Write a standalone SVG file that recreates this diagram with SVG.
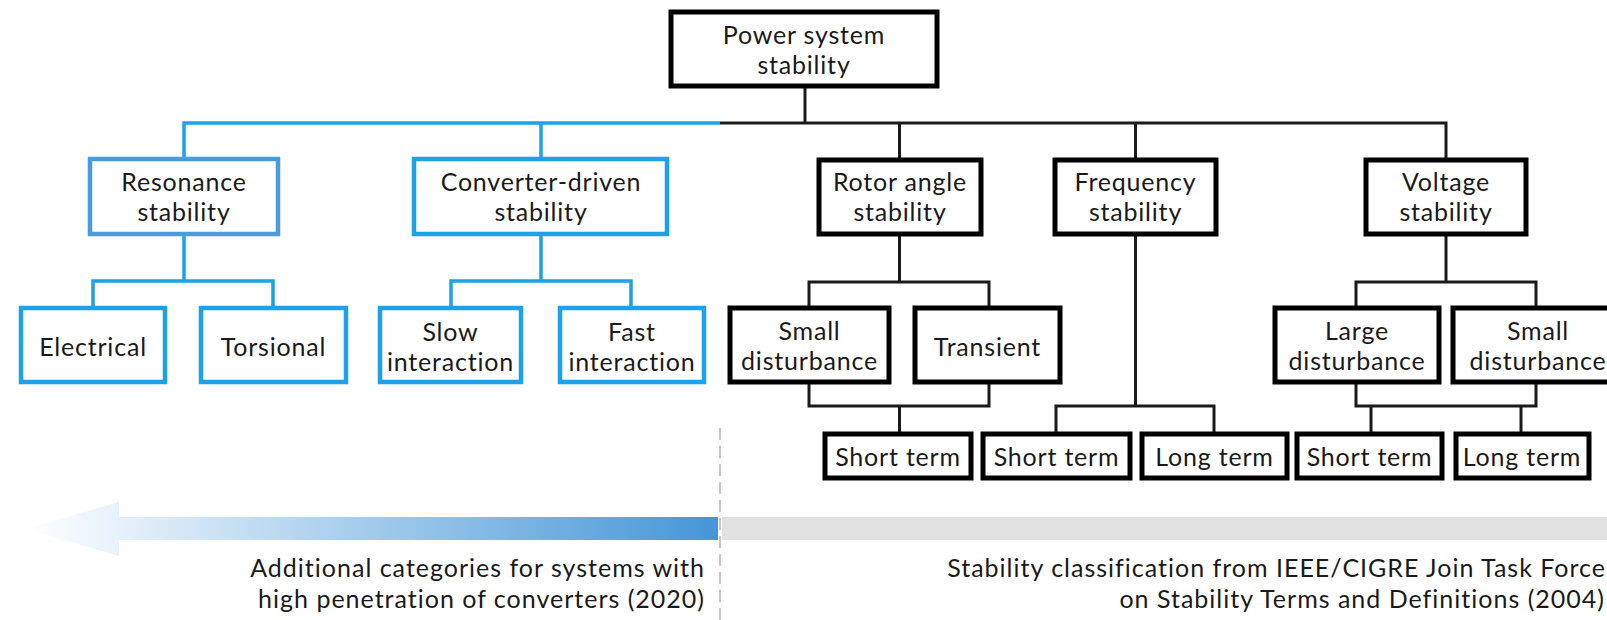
<svg xmlns="http://www.w3.org/2000/svg" width="1607" height="620" viewBox="0 0 1607 620">
<style>
  text { font-family: Lato, "Open Sans", "Liberation Sans", sans-serif; font-size: 25px; letter-spacing: 0.8px; fill: #1a1a1a; text-anchor: middle; dominant-baseline: central; }
  .bk { fill: #ffffff; stroke: #000000; stroke-width: 5; }
  .bl { fill: #ffffff; stroke: #1da1e8; stroke-width: 4.5; }
  .bl2 { fill: #ffffff; stroke: #4a9bd9; stroke-width: 4.5; }
  .ck { fill: none; stroke: #1a1a1a; stroke-width: 3; }
  .cb { fill: none; stroke: #1da1e8; stroke-width: 3.5; }
  .note { font-size: 25px; letter-spacing: 1px; text-anchor: end; }
</style>
<defs>
  <linearGradient id="grad" gradientUnits="userSpaceOnUse" x1="25" y1="0" x2="718" y2="0">
    <stop offset="0" stop-color="#ffffff"/>
    <stop offset="1" stop-color="#4596d8"/>
  </linearGradient>
</defs>
<rect width="1607" height="620" fill="#ffffff"/>

<g id="connectors">
  <path class="cb" d="M184,158 V123 H720"/>
  <path class="cb" d="M541,158 V123"/>
  <path class="ck" d="M720,123 H1446 V158"/>
  <path class="ck" d="M805,87 V123"/>
  <path class="ck" d="M899.5,123 V158"/>
  <path class="ck" d="M1135.5,123 V158"/>
  <path class="cb" d="M184,235 V281 M93,307 V281 H273 V307"/>
  <path class="cb" d="M541,235 V281 M451,307 V281 H631 V307"/>
  <path class="ck" d="M899.5,235 V282 M809,307 V282 H989 V307"/>
  <path class="ck" d="M809,383 V406 H989 V383 M899.5,406 V433"/>
  <path class="ck" d="M1135.5,235 V406 M1056,433 V406 H1214 V433"/>
  <path class="ck" d="M1446,235 V282 M1356,307 V282 H1536 V307"/>
  <path class="ck" d="M1356,383 V406 H1536 V383 M1371,406 V433 M1521,406 V433"/>
</g>

<g id="n-power"><rect class="bk" x="671" y="12" width="266" height="74"/><text x="804" y="34">Power system</text><text x="804" y="64">stability</text></g>

<g id="n-resonance"><rect class="bl2" x="90" y="159" width="188" height="75"/><text x="184" y="181">Resonance</text><text x="184" y="211">stability</text></g>
<g id="n-converter"><rect class="bl" x="414" y="159" width="253" height="75"/><text x="541" y="181">Converter-driven</text><text x="541" y="211">stability</text></g>
<g id="n-rotor"><rect class="bk" x="819" y="160" width="162" height="74"/><text x="900" y="181">Rotor angle</text><text x="900" y="211">stability</text></g>
<g id="n-frequency"><rect class="bk" x="1055" y="160" width="161" height="74"/><text x="1135.5" y="181">Frequency</text><text x="1135.5" y="211">stability</text></g>
<g id="n-voltage"><rect class="bk" x="1366" y="160" width="160" height="74"/><text x="1446" y="181">Voltage</text><text x="1446" y="211">stability</text></g>

<g id="n-electrical"><rect class="bl" x="21" y="308" width="144" height="74"/><text x="93" y="346">Electrical</text></g>
<g id="n-torsional"><rect class="bl" x="201" y="308" width="145" height="74"/><text x="273.5" y="346">Torsional</text></g>
<g id="n-slow"><rect class="bl" x="380" y="308" width="141" height="74"/><text x="450.5" y="331">Slow</text><text x="450.5" y="361">interaction</text></g>
<g id="n-fast"><rect class="bl" x="560" y="308" width="144" height="74"/><text x="632" y="331">Fast</text><text x="632" y="361">interaction</text></g>

<g id="n-small-rotor"><rect class="bk" x="730" y="308" width="159" height="74"/><text x="809.5" y="330">Small</text><text x="809.5" y="360">disturbance</text></g>
<g id="n-transient"><rect class="bk" x="915" y="308" width="145" height="74"/><text x="987.5" y="346">Transient</text></g>
<g id="n-large-voltage"><rect class="bk" x="1275" y="308" width="164" height="74"/><text x="1357" y="330">Large</text><text x="1357" y="360">disturbance</text></g>
<g id="n-small-voltage"><rect class="bk" x="1453" y="308" width="170" height="74"/><text x="1538" y="330">Small</text><text x="1538" y="360">disturbance</text></g>

<g id="n-short-rotor"><rect class="bk" x="825" y="434" width="146" height="44"/><text x="898" y="456">Short term</text></g>
<g id="n-short-freq"><rect class="bk" x="983" y="434" width="147" height="44"/><text x="1056.5" y="456">Short term</text></g>
<g id="n-long-freq"><rect class="bk" x="1142" y="434" width="145" height="44"/><text x="1214.5" y="456">Long term</text></g>
<g id="n-short-voltage"><rect class="bk" x="1297" y="434" width="145" height="44"/><text x="1369.5" y="456">Short term</text></g>
<g id="n-long-voltage"><rect class="bk" x="1456" y="434" width="133" height="44"/><text x="1522" y="456">Long term</text></g>

<g id="legend">
  <polygon points="25,529 119,502 119,517 718,517 718,540 119,540 119,556" fill="url(#grad)"/>
  <rect x="722" y="517" width="885" height="23" fill="#e1e1e1"/>
  <line x1="720" y1="428" x2="720" y2="620" stroke="#c8c8c8" stroke-width="2" stroke-dasharray="12 6"/>
  <text class="note" x="705" y="567">Additional categories for systems with</text>
  <text class="note" x="705" y="598">high penetration of converters (2020)</text>
  <text class="note" x="1606" y="567">Stability classification from IEEE/CIGRE Join Task Force</text>
  <text class="note" x="1605" y="598">on Stability Terms and Definitions (2004)</text>
</g>
</svg>
